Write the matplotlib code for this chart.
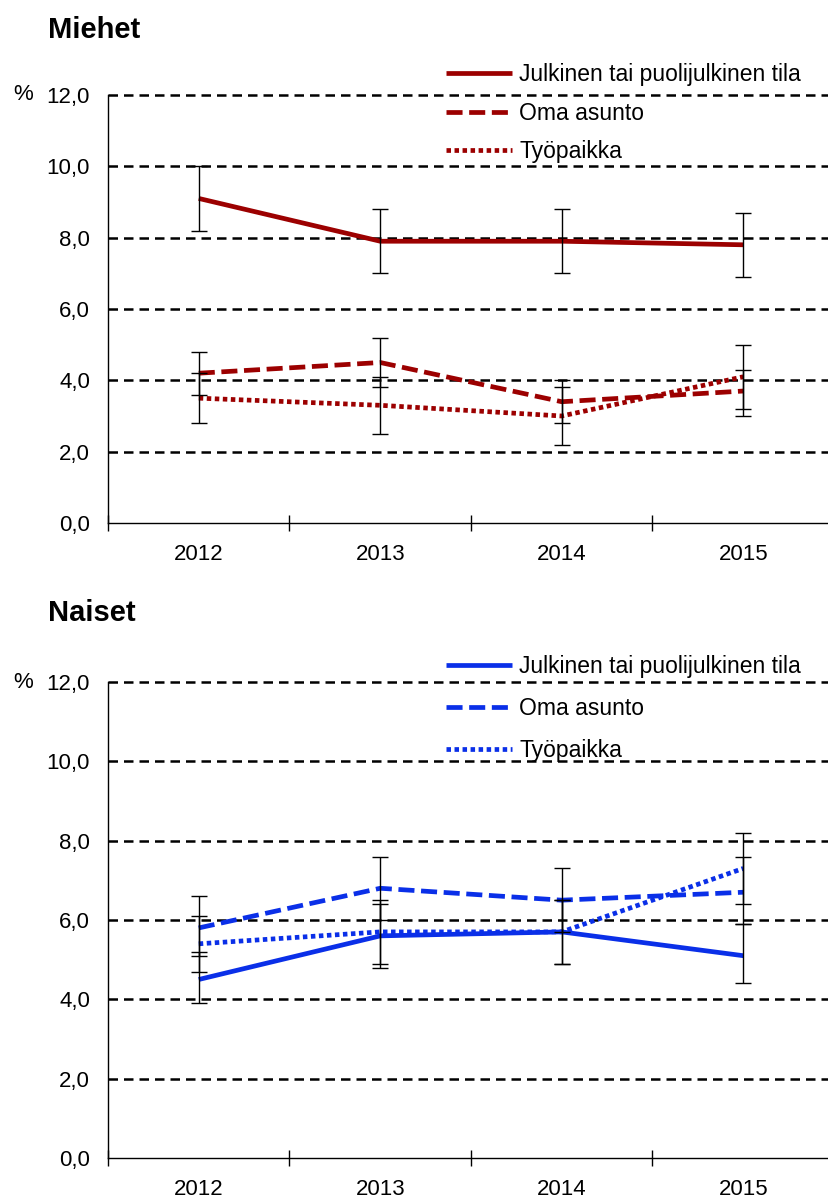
import matplotlib.pyplot as plt
from matplotlib.ticker import FixedLocator, FuncFormatter

plt.rcParams['font.family'] = ['Liberation Sans', 'DejaVu Sans']

# Vuodet
years = ['2012', '2013', '2014', '2015']
labels = ['Julkinen tai puolijulkinen tila', 'Oma asunto', 'Työpaikka']

# Miehet: arvo, alaraja, yläraja
men_public = [9.1, 7.9, 7.9, 7.8]
men_public_lo = [8.2, 7.0, 7.0, 6.9]
men_public_hi = [10.0, 8.8, 8.8, 8.7]
men_home = [4.2, 4.5, 3.4, 3.7]
men_home_lo = [3.6, 3.8, 2.8, 3.0]
men_home_hi = [4.8, 5.2, 4.0, 4.3]
men_work = [3.5, 3.3, 3.0, 4.1]
men_work_lo = [2.8, 2.5, 2.2, 3.2]
men_work_hi = [4.2, 4.1, 3.8, 5.0]

# Naiset
women_public = [4.5, 5.6, 5.7, 5.1]
women_public_lo = [3.9, 4.8, 4.9, 4.4]
women_public_hi = [5.2, 6.4, 6.5, 5.9]
women_home = [5.8, 6.8, 6.5, 6.7]
women_home_lo = [5.1, 6.0, 5.7, 5.9]
women_home_hi = [6.6, 7.6, 7.3, 7.6]
women_work = [5.4, 5.7, 5.7, 7.3]
women_work_lo = [4.7, 4.9, 4.9, 6.4]
women_work_hi = [6.1, 6.5, 6.5, 8.2]

RED = '#9c0000'
BLUE = '#0a2fe8'
LW = 3.4
styles = ['-', (0, (3.4, 1.4)), (0, (0.95, 0.75))]

W, H = 829, 1200
fig = plt.figure(figsize=(W / 100, H / 100), dpi=100)


def px_axes(left, top, right, bottom):
    return fig.add_axes([left / W, 1 - bottom / H, (right - left) / W, (bottom - top) / H])


def draw_panel(ax, series, color, title, title_y, legend_top, spacing):
    x = list(range(len(years)))
    handles = []
    for (vals, lo, hi), ls in zip(series, styles):
        ln, = ax.plot(x, vals, color=color, lw=LW, linestyle=ls,
                      dash_capstyle='butt', solid_capstyle='butt', zorder=3)
        handles.append(ln)
        err = [[v - l for v, l in zip(vals, lo)], [h - v for v, h in zip(vals, hi)]]
        ax.errorbar(x, vals, yerr=err, fmt='none', ecolor='black', elinewidth=1,
                    capsize=6, capthick=1, zorder=4)

    ax.set_xlim(-0.5, 3.5)
    ax.set_ylim(0, 12)
    ax.set_yticks(range(0, 13, 2))
    ax.yaxis.set_major_formatter(FuncFormatter(lambda v, p: f'{v:.1f}'.replace('.', ',')))
    ax.set_xticks(x)
    ax.set_xticklabels(years)
    ax.xaxis.set_minor_locator(FixedLocator([-0.5, 0.5, 1.5, 2.5]))
    ax.tick_params(axis='both', which='major', length=0, labelsize=16)
    ax.tick_params(axis='y', which='major', pad=13)
    ax.tick_params(axis='x', which='major', pad=15)
    ax.tick_params(axis='x', which='minor', direction='inout', length=11, width=1)
    for v in range(2, 13, 2):
        ax.axhline(v, color='black', lw=1.8, linestyle=(0, (3.8, 2.4)), zorder=1, clip_on=False)
    for s in ['top', 'right']:
        ax.spines[s].set_visible(False)
    ax.spines['left'].set_linewidth(1)
    ax.spines['bottom'].set_linewidth(1)

    fig.text(48 / W, 1 - title_y / H, title, fontsize=21, fontweight='bold', va='center')
    pos = ax.get_position()
    fig.text(13 / W, pos.y1, '%', fontsize=16, va='center')

    fig.legend(handles, labels, loc='upper left', bbox_to_anchor=(446 / W, 1 - legend_top / H),
               frameon=False, fontsize=16.5, handlelength=2.9, handletextpad=0.3,
               labelspacing=spacing, borderpad=0, borderaxespad=0)


ax1 = px_axes(108, 95, 834, 523)
draw_panel(ax1, [(men_public, men_public_lo, men_public_hi),
                 (men_home, men_home_lo, men_home_hi),
                 (men_work, men_work_lo, men_work_hi)],
           RED, 'Miehet', 30, 63, 0.68)

ax2 = px_axes(108, 682, 834, 1158)
draw_panel(ax2, [(women_public, women_public_lo, women_public_hi),
                 (women_home, women_home_lo, women_home_hi),
                 (women_work, women_work_lo, women_work_hi)],
           BLUE, 'Naiset', 613, 655, 0.82)

fig.savefig('out.png', dpi=100)
